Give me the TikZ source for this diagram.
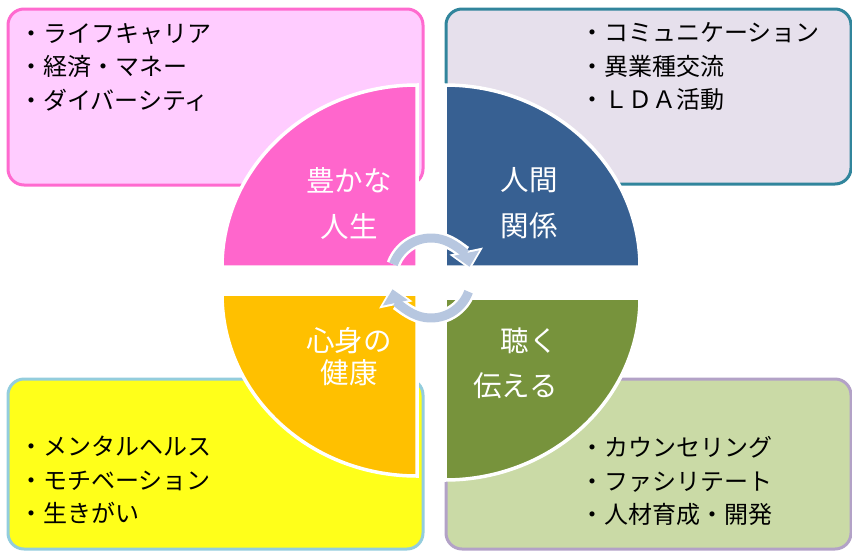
\documentclass[tikz,border=0pt]{standalone}
\usepackage{fontspec}
\setmainfont{Noto Sans CJK JP}
\usetikzlibrary{arrows.meta}
\definecolor{pinkline}{HTML}{FF6ACF}
\definecolor{pinkfill}{HTML}{FFCCFF}
\definecolor{pinkquad}{HTML}{FF66CC}
\definecolor{tealline}{HTML}{31859C}
\definecolor{lavfill}{HTML}{E6E0EC}
\definecolor{bluequad}{HTML}{376092}
\definecolor{skyline}{HTML}{93CDDD}
\definecolor{yellowfill}{HTML}{FFFF1A}
\definecolor{orangequad}{HTML}{FFC000}
\definecolor{lilacline}{HTML}{B3A2C7}
\definecolor{greenfill}{HTML}{CADAA6}
\definecolor{greenquad}{HTML}{77933C}
\definecolor{cyclefill}{HTML}{B7C7E0}

\begin{document}
\begin{tikzpicture}[x=1pt, y=-1pt,
    listbox/.style={line width=3pt, rounded corners=16pt},
    quarter/.style={draw=white, line width=3.5pt},
    itemtext/.style={anchor=west, inner sep=0pt, align=left, font=\fontsize{24}{33.5}\selectfont},
    quadtext/.style={text=white, inner sep=0pt, font=\fontsize{28.5}{28.5}\selectfont},
    cycleback/.style={white, line width=14pt, -{Triangle[width=33pt,length=19pt]}},
    cyclefront/.style={cyclefill, line width=9pt, shorten >=3pt, -{Triangle[width=25pt,length=14pt]}}]
    \useasboundingbox (0,0) rectangle (852,550);

    % Boxes behind the quarters
    \draw[listbox, draw=pinkline, fill=pinkfill] (8,9) rectangle (423,185);
    \draw[listbox, draw=tealline, fill=lavfill] (446,9) rectangle (851,184);
    \draw[listbox, draw=skyline, fill=yellowfill] (8,379) rectangle (423,549);
    \draw[listbox, draw=lilacline, fill=greenfill] (446,379) rectangle (851,549);

    % Quarters
    \draw[quarter, fill=pinkquad] (417,267) -- ++(-195,0) arc[start angle=180, end angle=270, x radius=195, y radius=182] -- cycle;
    \draw[quarter, fill=bluequad] (445,267) -- ++(195,0) arc[start angle=0, end angle=-90, x radius=195, y radius=182] -- cycle;
    \draw[quarter, fill=orangequad] (417,294) -- ++(-195,0) arc[start angle=180, end angle=90, x radius=195, y radius=182] -- cycle;
    \draw[quarter, fill=greenquad] (445,298) -- ++(195,0) arc[start angle=0, end angle=90, x radius=195, y radius=182] -- cycle;

    % Lists
    \node[itemtext] (richlist) at (19,67) {・ライフキャリア\\・経済・マネー\\・ダイバーシティ};
    \node[itemtext] (humanlist) at (580,67) {・コミュニケーション\\・異業種交流\\・ＬＤＡ活動};
    \node[itemtext] (healthlist) at (19,480) {・メンタルヘルス\\・モチベーション\\・生きがい};
    \node[itemtext] (listenlist) at (580,481) {・カウンセリング\\・ファシリテート\\・人材育成・開発};

    % Quarter labels
    \node[quadtext] (rich1) at (349,180) {豊かな};
    \node[quadtext] (rich2) at (349,227) {人生};
    \node[quadtext, anchor=east] (human1) at (558,180) {人間};
    \node[quadtext, anchor=east] (human2) at (558,226) {関係};
    \node[quadtext] (health1) at (349,341) {心身の};
    \node[quadtext] (health2) at (349,373) {健康};
    \node[quadtext, anchor=east] (listen1) at (558,341) {聴く};
    \node[quadtext, anchor=east] (listen2) at (558,386) {伝える};

    % Cycle arrows in the middle
    \coordinate (hub) at (431,278);
    \draw[cycleback] (hub) ++(-160:40) arc[start angle=-160, end angle=-12, radius=40];
    \draw[cyclefront] (hub) ++(-160:40) arc[start angle=-160, end angle=-12, radius=40];
    \draw[cycleback] (hub) ++(20:40) arc[start angle=20, end angle=168, radius=40];
    \draw[cyclefront] (hub) ++(20:40) arc[start angle=20, end angle=168, radius=40];
\end{tikzpicture}
\end{document}
